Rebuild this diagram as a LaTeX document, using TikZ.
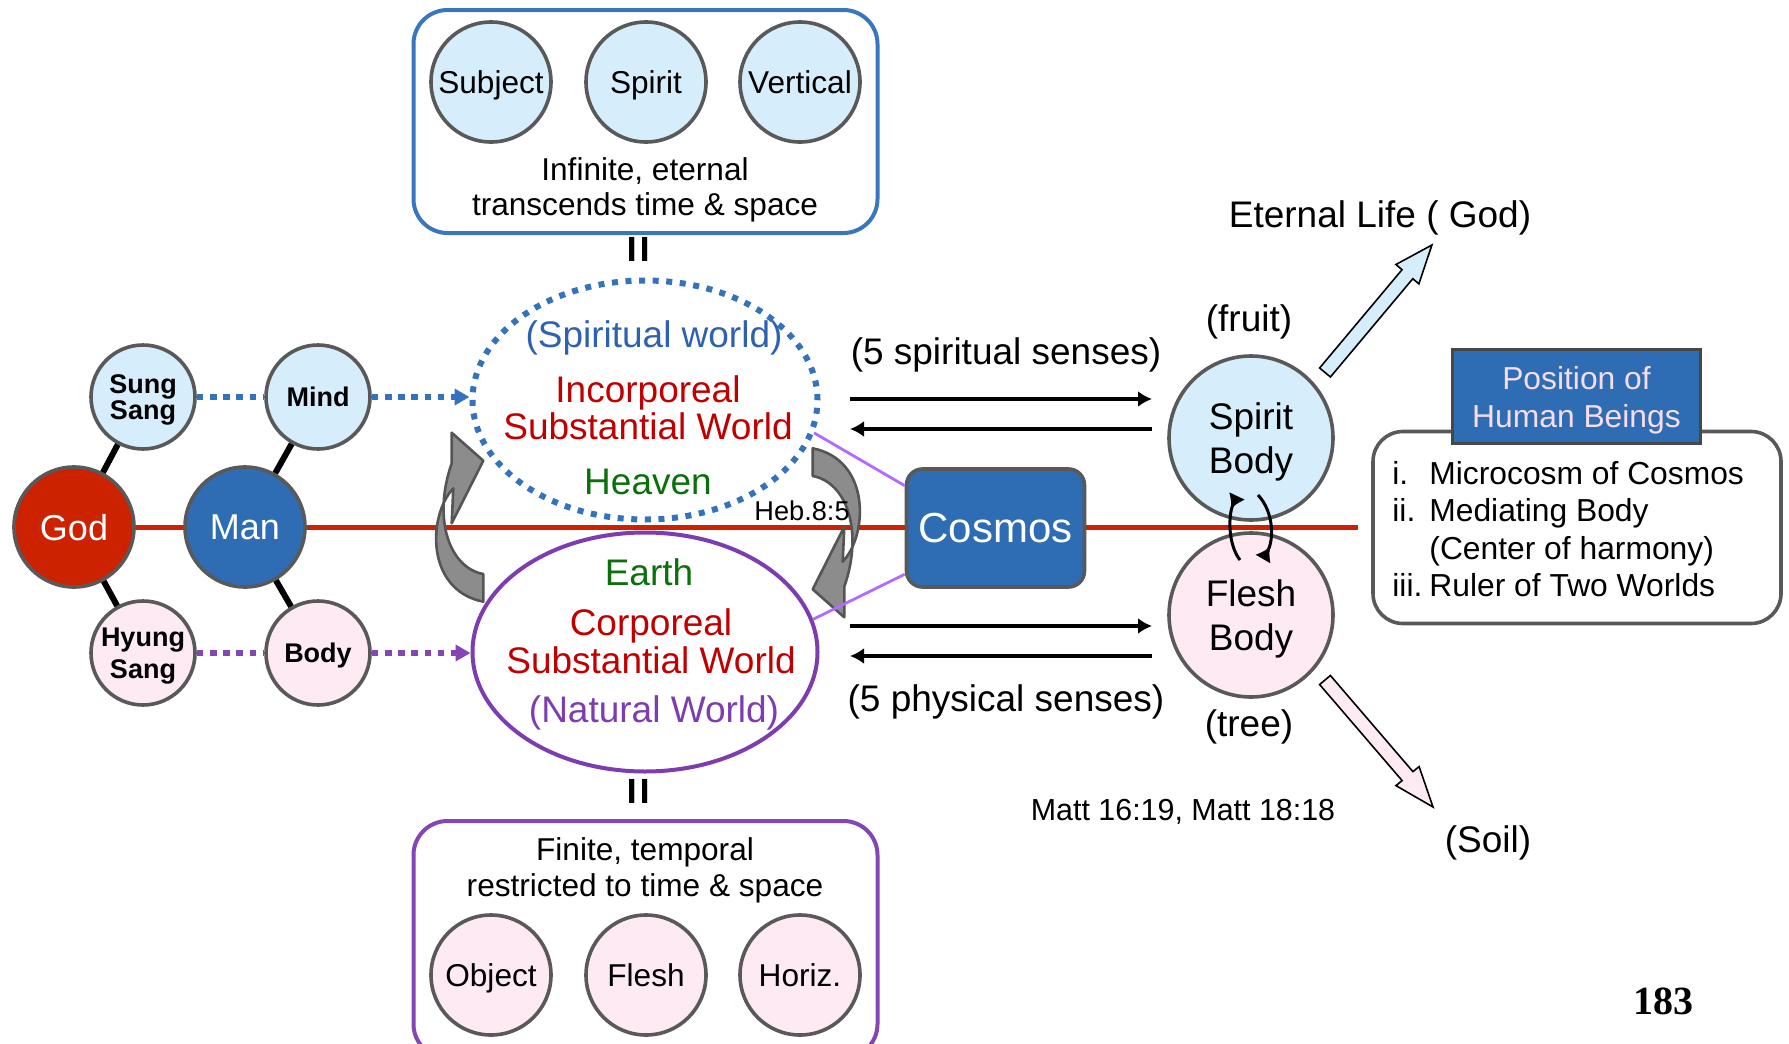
\documentclass[tikz,border=0pt]{standalone}
\usepackage{fontspec}
\setmainfont{Liberation Sans}
\newfontfamily\pagenumfont{Liberation Serif}
\usetikzlibrary{shapes.geometric,arrows.meta,backgrounds}
\newcommand{\sz}[2]{\fontsize{#1}{#2}\selectfont}
\definecolor{godred}{HTML}{CC2200}
\definecolor{manblue}{HTML}{2E6DB4}
\definecolor{skyfill}{HTML}{D6EDFB}
\definecolor{pinkfill}{HTML}{FDEAF3}
\definecolor{ringgray}{HTML}{595959}
\definecolor{dotblue}{HTML}{3572BD}
\definecolor{dotpurple}{HTML}{8545B5}
\definecolor{natpurple}{HTML}{7D3CB0}
\definecolor{incred}{HTML}{C00000}
\definecolor{leafgreen}{HTML}{0B700B}
\definecolor{spblue}{HTML}{2E62B0}
\definecolor{lilac}{HTML}{B36BFF}
\definecolor{headpink}{HTML}{F7DDEC}
\definecolor{boxblue}{HTML}{3A76BE}
\definecolor{boxpurple}{HTML}{8446B2}
\definecolor{twistgray}{HTML}{8C8C8C}
\definecolor{twistedge}{HTML}{555555}

\begin{document}
\begin{tikzpicture}[x=.5pt,y=-.5pt,font=\sz{18.5}{20},
  ball/.style={circle,draw=ringgray,line width=1.8pt,inner sep=0pt,align=center,text depth=0pt,minimum size=#1},
  ball/.default=52pt,
  blackbond/.style={line width=3pt},
  dotsky/.style={draw=dotblue,line width=2.8pt,dash pattern=on 3.3pt off 3.3pt},
  dotplum/.style={draw=dotpurple,line width=2.8pt,dash pattern=on 3.3pt off 3.3pt},
  dotarrow/.style={-{Triangle[length=7.5pt,width=8pt]}},
  sense/.style={line width=2pt,-{Latex[length=7pt,width=8pt]}},
  swaparc/.style={line width=1.5pt},
  cosmosline/.style={draw=lilac,line width=1.4pt},
  worldbox/.style={line width=2pt,rounded corners=17pt,minimum width=232pt,inner sep=0pt},
  twist/.style={fill=twistgray,draw=twistedge,line width=1.3pt,line join=round},
  blockarrow/.style={draw=black,line width=.8pt}]
\path[use as bounding box] (0,0) rectangle (1789,1044);

\node[ball=60pt,fill=godred,text=white,font=\sz{18}{20}] (god) at (74,527) {God};
\node[ball=60pt,fill=manblue,text=white,font=\sz{18}{20}] (man) at (245,527) {Man};
\node[ball,fill=skyfill,font=\bfseries\sz{13.5}{13.4}] (sungsang) at (143,397) {Sung\\Sang};
\node[ball,fill=skyfill,font=\bfseries\sz{13.5}{15}] (mind) at (318,397) {Mind};
\node[ball,fill=pinkfill,font=\bfseries\sz{13.5}{15.8}] (hyungsang) at (143,653) {Hyung\\Sang};
\node[ball,fill=pinkfill,font=\bfseries\sz{13.5}{15}] (body) at (318,653) {Body};

\coordinate (redend) at (1358,527);
\begin{scope}[on background layer]
\draw[godred,line width=2.5pt] (god.center) -- (redend);
\end{scope}

\draw[blackbond] (god) -- (sungsang);
\draw[blackbond] (god) -- (hyungsang);
\draw[blackbond] (man) -- (mind);
\draw[blackbond] (man) -- (body);

\node[ellipse,draw=dotblue,line width=3pt,dash pattern=on 3pt off 3.8pt,minimum width=172.5pt,minimum height=119.5pt,inner sep=0pt] (spiritw) at (645,400) {};
\node[ellipse,draw=natpurple,line width=2pt,minimum width=172.5pt,minimum height=119.5pt,inner sep=0pt] (naturalw) at (645,652) {};

\node[text=spblue] (spwlabel) at (654,338) {(Spiritual world)};
\node[text=incred,align=center,font=\sz{18.5}{18.75}] (incorp) at (648,408) {Incorporeal\\Substantial World};
\node[text=leafgreen] (heaven) at (648,482) {Heaven};
\node[text=leafgreen] (earth) at (649,572) {Earth};
\node[text=incred,align=center,font=\sz{18.5}{19}] (corp) at (651,641) {Corporeal\\Substantial World};
\node[text=natpurple] (natlabel) at (654,713) {(Natural World)};

\draw[dotsky] (sungsang) -- (mind);
\draw[dotsky,dotarrow] (mind.east) -- (mind -| spiritw.west);
\draw[dotplum] (hyungsang) -- (body);
\draw[dotplum,dotarrow] (body.east) -- (body -| naturalw.west);

\draw[twist] (451.7,432.7) -- (483.3,460.7) -- (451.7,523.3) -- (453.3,488.3)
  .. controls (428,515) and (425,590) .. (483.3,601.7) -- (483.3,574)
  .. controls (450,568) and (432,520) .. (451.7,463.3) -- cycle;
\draw[twist,rotate around={180:(648,525)}] (451.7,432.7) -- (483.3,460.7) -- (451.7,523.3) -- (453.3,488.3)
  .. controls (428,515) and (425,590) .. (483.3,601.7) -- (483.3,574)
  .. controls (450,568) and (432,520) .. (451.7,463.3) -- cycle;

\node[font=\sz{13.6}{15}] (heb) at (802,511) {Heb.8:5};

\node[draw=ringgray,line width=1.8pt,fill=manblue,rounded corners=8pt,minimum width=89pt,minimum height=59pt,text=white,font=\sz{21}{24}] (cosmos) at (995.5,528) {Cosmos};
\draw[cosmosline] (spiritw.-11) -- (cosmos.155);
\draw[cosmosline] (naturalw.11) -- (cosmos.207);

\node[ball=82pt,fill=skyfill,font=\sz{18.5}{22}] (spiritbody) at (1251,438) {Spirit\\Body};
\node[ball=82pt,fill=pinkfill,font=\sz{18.5}{22}] (fleshbody) at (1251,615) {Flesh\\Body};

\coordinate (spinL) at (850,399);
\coordinate (spinR) at (1152,399);
\coordinate (spoutR) at (1152,429);
\coordinate (spoutL) at (850,429);
\coordinate (phinL) at (850,626);
\coordinate (phinR) at (1152,626);
\coordinate (phoutR) at (1152,656);
\coordinate (phoutL) at (850,656);
\draw[sense] (spinL) -- (spinR);
\draw[sense] (spoutR) -- (spoutL);
\draw[sense] (phinL) -- (phinR);
\draw[sense] (phoutR) -- (phoutL);
\node (spsenses) at (1006,355) {(5 spiritual senses)};
\node (phsenses) at (1006,702) {(5 physical senses)};

\coordinate (arcLtop) at (1237,496);
\coordinate (arcLbot) at (1240,560);
\coordinate (arcRtop) at (1258,495);
\coordinate (arcRbot) at (1263,559);
\draw[swaparc,{Latex[reversed,length=7pt,width=9pt]}-] (arcLtop) .. controls (1228,515) and (1228,545) .. (arcLbot);
\draw[swaparc,-{Latex[reversed,length=7pt,width=9pt]}] (arcRtop) .. controls (1274,512) and (1274,540) .. (arcRbot);

\draw[blockarrow,fill=skyfill] (1330.4,377) -- (1412.8,278.7) -- (1418.9,283.9) -- (1431.9,245) -- (1395.9,264.5) -- (1402.0,269.7) -- (1319.6,368) -- cycle;
\draw[blockarrow,fill=pinkfill] (1330.4,675.5) -- (1412.9,771.6) -- (1419.1,766.6) -- (1433,807) -- (1395.9,785.6) -- (1402.1,780.6) -- (1319.6,684.5) -- cycle;

\node (eternal) at (1380,218) {Eternal Life ( God)};
\node (fruit) at (1249,322) {(fruit)};
\node (tree) at (1249,727) {(tree)};
\node (soil) at (1488,843) {(Soil)};
\node[font=\sz{15.2}{17}] (matt) at (1183,812) {Matt 16:19, Matt 18:18};
\node[font=\pagenumfont\bfseries\sz{20}{22}] (pagenum) at (1663,1001) {183};

\node[draw=ringgray,line width=1.8pt,rounded corners=15pt,minimum width=204pt,minimum height=96pt,inner sep=0pt] (rolebox) at (1577,527.5) {};
\node[draw=ringgray!80!black,fill=manblue,line width=1.8pt,minimum width=124pt,minimum height=47pt,inner sep=0pt,text depth=0pt,text=headpink,font=\sz{15.9}{19},align=center] (header) at (1576.5,396.5) {Position of\\Human Beings};
\node[anchor=west,inner sep=0pt,font=\sz{15.9}{18.7},align=left] (rolelist) at (1392,529) {\makebox[18.5pt][l]{i.}Microcosm of Cosmos\\\makebox[18.5pt][l]{ii.}Mediating Body\\\hspace*{18.5pt}(Center of harmony)\\\makebox[18.5pt][l]{iii.}Ruler of Two Worlds};

\node[worldbox,draw=boxblue,minimum height=111.5pt] (topbox) at (645.5,121.5) {};
\node[ball=60pt,fill=skyfill,font=\sz{15.8}{18}] (subject) at (491,82) {Subject};
\node[ball=60pt,fill=skyfill,font=\sz{15.8}{18}] (spirit) at (646,82) {Spirit};
\node[ball=60pt,fill=skyfill,font=\sz{15.8}{18}] (vertical) at (800,82) {Vertical};
\node[align=center,font=\sz{15.8}{17.5}] (infinite) at (645,190) {Infinite, eternal\\transcends time \& space};
\node[rotate=90,font=\bfseries\sz{24}{24}] (eqtop) at (642,249) {=};

\node[worldbox,draw=boxpurple,minimum height=118.5pt] (bottombox) at (645.5,939.5) {};
\node[align=center,font=\sz{15.8}{18}] (finite) at (645,870) {Finite, temporal\\restricted to time \& space};
\node[ball=60pt,fill=pinkfill,font=\sz{15.8}{18}] (object) at (491,975) {Object};
\node[ball=60pt,fill=pinkfill,font=\sz{15.8}{18}] (flesh) at (646,975) {Flesh};
\node[ball=60pt,fill=pinkfill,font=\sz{15.8}{18}] (horiz) at (800,975) {Horiz.};
\node[rotate=90,font=\bfseries\sz{24}{24}] (eqbottom) at (642,791) {=};
\end{tikzpicture}
\end{document}
